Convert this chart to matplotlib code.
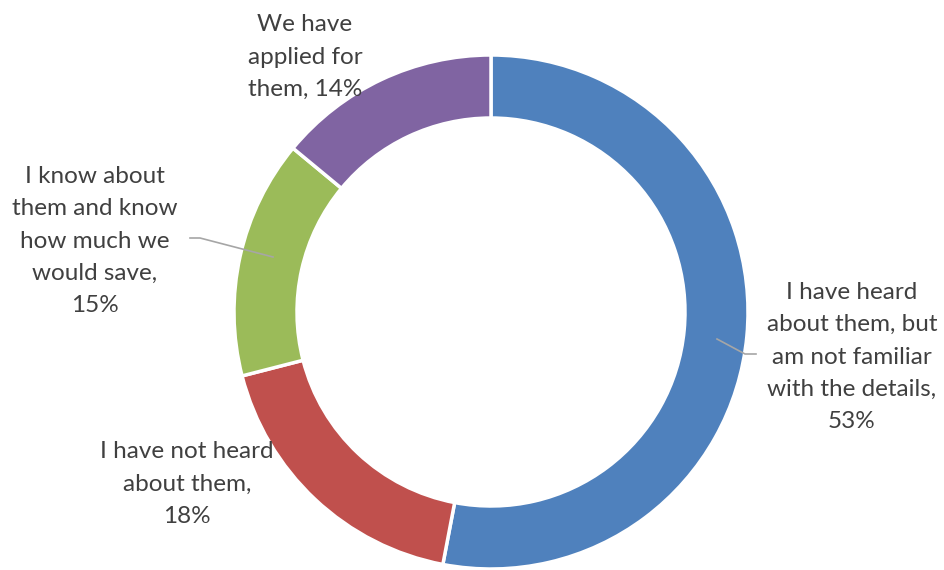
import matplotlib.pyplot as plt

# survey answers
labels = ['I have heard\nabout them, but\nam not familiar\nwith the details,\n53%',
          'I have not heard\nabout them,\n18%',
          'I know about\nthem and know\nhow much we\nwould save,\n15%',
          'We have\napplied for\nthem, 14%']
shares = [53, 18, 15, 14]
colors = ['#4F81BD', '#C0504D', '#9BBB59', '#8064A2']

# label centres (pixels, y up)
label_pos = [(852, 213), (187, 86), (95, 329), (305, 513)]

plt.rcParams['font.family'] = ['Lato', 'DejaVu Sans']

fig = plt.figure(figsize=(9.44, 5.70), dpi=100)
ax = fig.add_axes([0, 0, 1, 1])

ax.pie(shares, colors=colors, startangle=90, counterclock=False,
       center=(491, 258), radius=257, frame=True,
       wedgeprops=dict(width=63, edgecolor='white', linewidth=2.5))
ax.set_xlim(0, 944)
ax.set_ylim(0, 570)
ax.set_aspect('equal')
ax.axis('off')

for lab, (x, y) in zip(labels, label_pos):
    ax.text(x, y, lab, ha='center', va='center', fontsize=17.5,
            color='#404040', linespacing=1.67)

# leader lines
ax.plot([717, 745, 756], [231, 216, 216], color='#A6A6A6', lw=1.2)
ax.plot([190, 200, 273], [332, 332, 313], color='#A6A6A6', lw=1.2)

fig.savefig('out.png', dpi=100)
